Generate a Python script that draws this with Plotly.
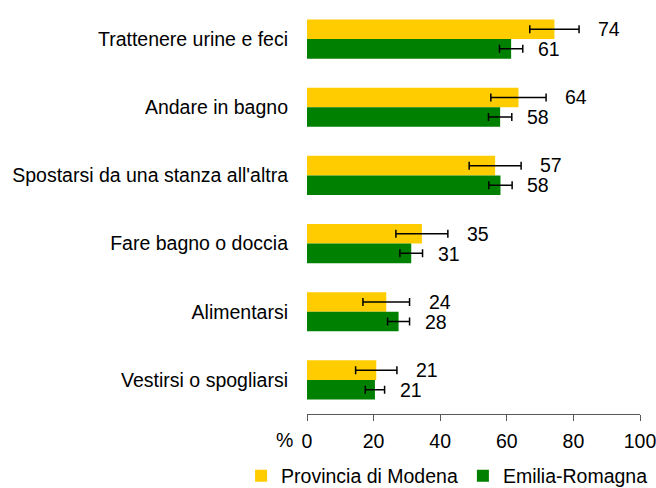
import plotly.graph_objects as go

categories = [
    "Trattenere urine e feci",
    "Andare in bagno",
    "Spostarsi da una stanza all'altra",
    "Fare bagno o doccia",
    "Alimentarsi",
    "Vestirsi o spogliarsi",
]
modena_values = [74.3, 63.5, 56.5, 34.5, 23.8, 20.8]
modena_err = [7.4, 8.3, 7.8, 7.8, 7.0, 6.2]
modena_labels = ["74", "64", "57", "35", "24", "21"]
er_values = [61.3, 58.0, 58.1, 31.3, 27.5, 20.4]
er_err = [3.5, 3.5, 3.5, 3.4, 3.3, 2.9]
er_labels = ["61", "58", "58", "31", "28", "21"]
x_ticks = [0, 20, 40, 60, 80, 100]

YELLOW = "#FFCC00"
GREEN = "#008000"
FONT = "Liberation Sans"
FS = 19.5

fig = go.Figure()
fig.add_trace(go.Bar(
    y=categories, x=modena_values, orientation="h", name="Provincia di Modena",
    marker=dict(color=YELLOW, line=dict(width=0)),
    error_x=dict(type="data", array=modena_err, color="black", thickness=1.5, width=4),
))
fig.add_trace(go.Bar(
    y=categories, x=er_values, orientation="h", name="Emilia-Romagna",
    marker=dict(color=GREEN, line=dict(width=0)),
    error_x=dict(type="data", array=er_err, color="black", thickness=1.5, width=4),
))

annotations = []
for cat, v, e, lab in zip(categories, modena_values, modena_err, modena_labels):
    annotations.append(dict(x=v + e, y=cat, text=lab, xanchor="left", yanchor="middle",
                            xshift=17, yshift=10, showarrow=False,
                            font=dict(family=FONT, size=FS, color="#000")))
for cat, v, e, lab in zip(categories, er_values, er_err, er_labels):
    annotations.append(dict(x=v + e, y=cat, text=lab, xanchor="left", yanchor="middle",
                            xshift=13, yshift=-10, showarrow=False,
                            font=dict(family=FONT, size=FS, color="#000")))
annotations.append(dict(x=-0.067, y=-0.064, xref="paper", yref="paper", text="%",
                        xanchor="center", yanchor="middle", showarrow=False,
                        font=dict(family=FONT, size=FS, color="#000")))

fig.update_layout(
    width=656, height=488,
    margin=dict(l=307, r=16, t=5, b=74, autoexpand=False),
    paper_bgcolor="white", plot_bgcolor="white",
    barmode="group", bargap=0.426, bargroupgap=0,
    font=dict(family=FONT, size=FS, color="#000"),
    annotations=annotations,
    showlegend=True,
    legend=dict(orientation="h", x=-0.198, xanchor="left", y=-0.152, yanchor="middle",
                font=dict(family=FONT, size=FS, color="#000"), traceorder="normal"),
    xaxis=dict(range=[0, 100], tickvals=x_ticks, showgrid=False, zeroline=False,
               showline=True, linecolor="#595959", linewidth=1,
               ticks="outside", ticklen=6, tickcolor="#595959", tickwidth=1,
               ticklabelstandoff=4, automargin=False, ticklabeloverflow="allow"),
    yaxis=dict(autorange="reversed", showgrid=False, zeroline=False, showline=False,
               ticks="", ticklabelstandoff=18, automargin=False),
)

fig.write_html("out.html", config={"displayModeBar": False},
               post_script="document.body.style.margin='0';")
